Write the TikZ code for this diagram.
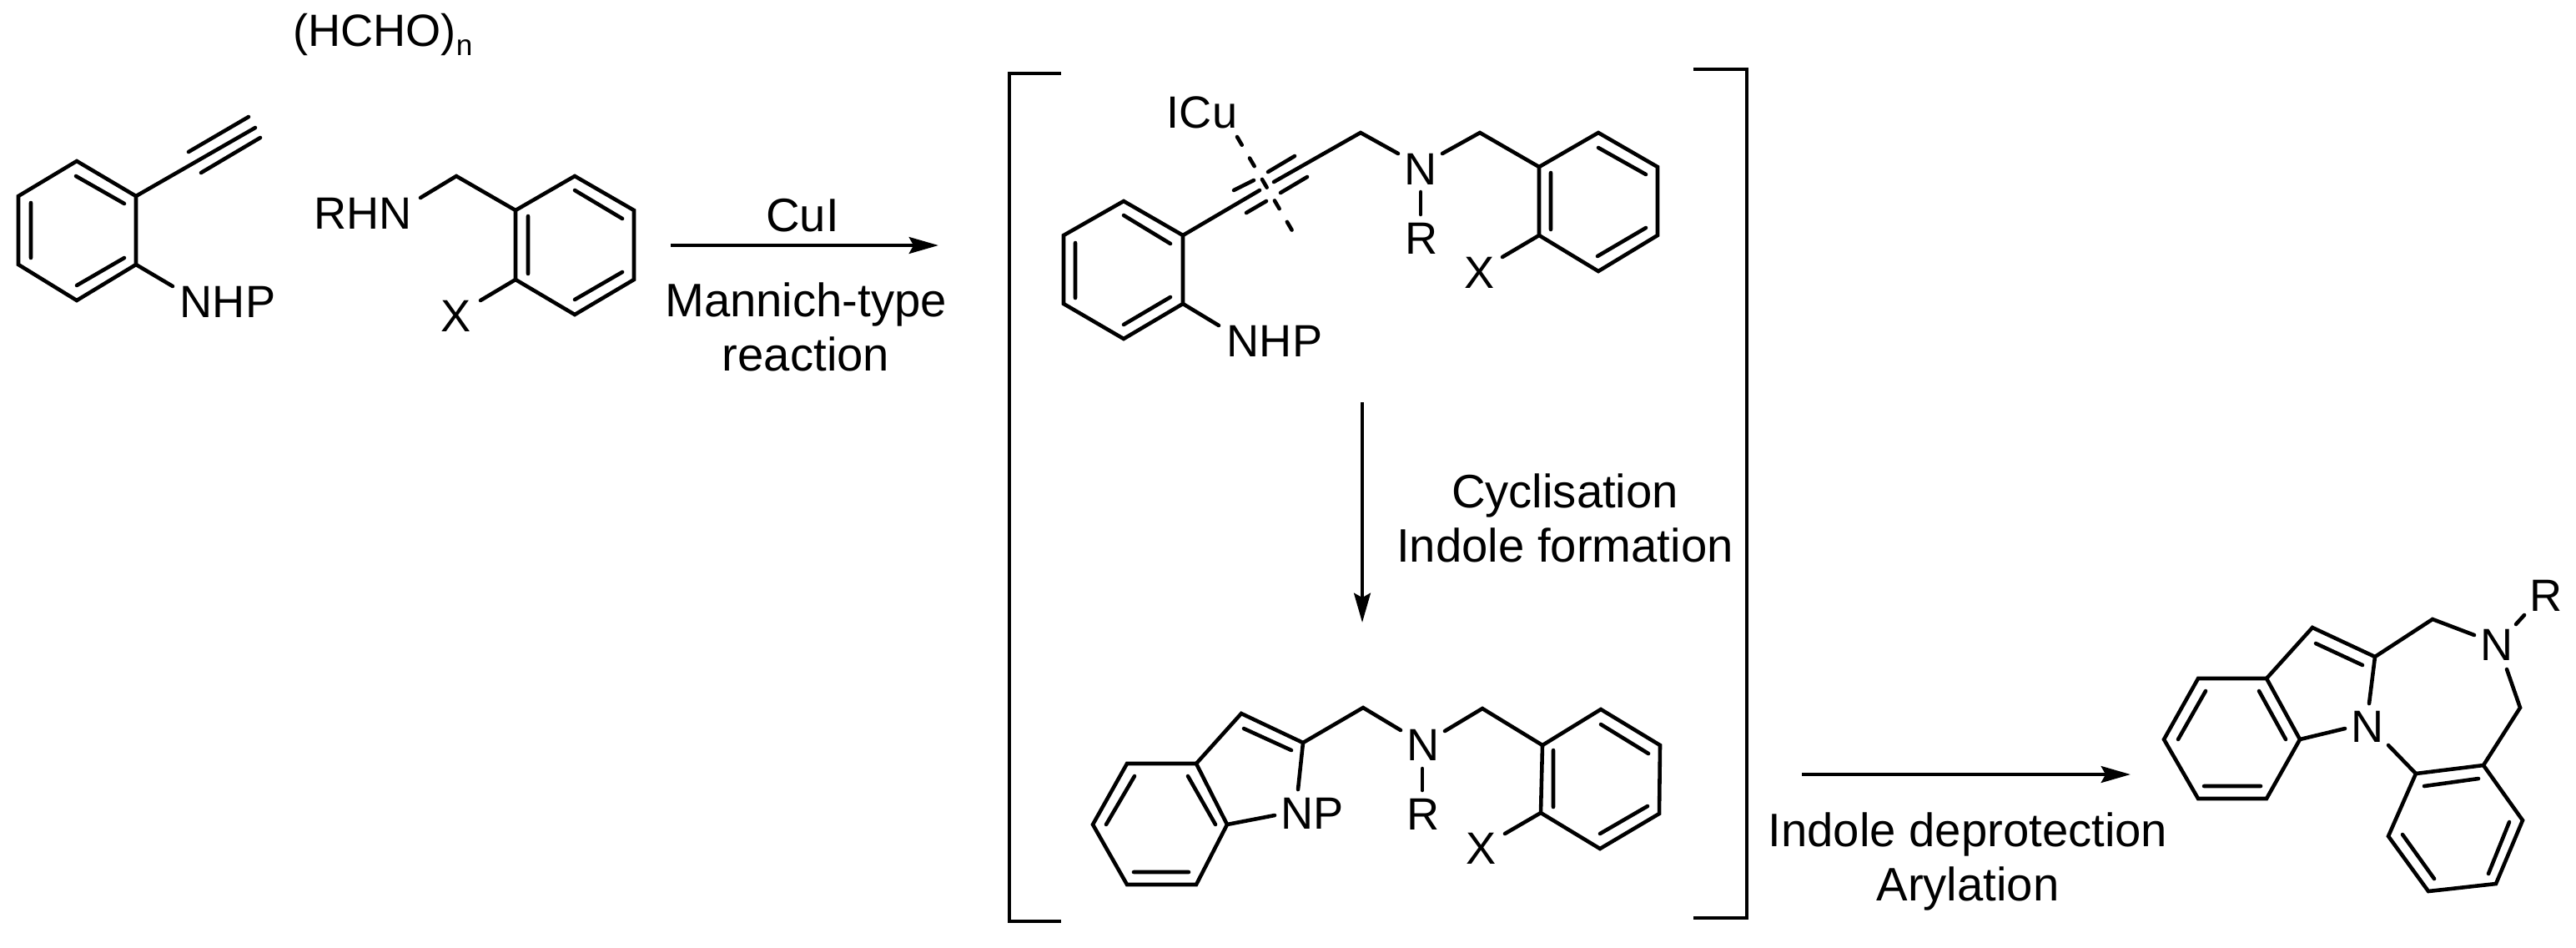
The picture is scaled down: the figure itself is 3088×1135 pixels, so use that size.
\documentclass[tikz,border=0pt]{standalone}
\usepackage{fontspec}
\setmainfont{Liberation Sans}
\usetikzlibrary{arrows.meta}

\tikzset{
  bond/.style={line width=1.3pt,line cap=round,line join=miter},
  dashbond/.style={line width=1.3pt,line cap=round,dash pattern=on 3.2pt off 5.2pt},
  bracket/.style={line width=1.3pt,line join=miter},
  rxnarrow/.style={line width=1.3pt,-{Stealth[length=10pt,width=5.6pt,inset=1.5pt]}},
  atom/.style={inner sep=0pt,font=\fontsize{15.4}{17}\selectfont},
  caption/.style={inner sep=0pt,align=center,font=\fontsize{16}{18.5}\selectfont}
}

\begin{document}
\begin{tikzpicture}[x=0.01cm,y=-0.01cm]
  \useasboundingbox (0,0) rectangle (3088,1135);

  % starting materials
  \draw[bond] (92,193) -- (163,235) -- (163,317) -- (92,360) -- (22,317) -- (22,235) -- cycle;
  \draw[bond] (91,211) -- (149,244) (37,243) -- (37,309) (92,342) -- (149,309);
  \draw[bond] (163,235) -- (306,153) (226,182) -- (298,140) (241,207) -- (312,165);
  \node[atom,anchor=base] (hcho) at (459,55) {(HCHO)\raisebox{-3.4pt}{\fontsize{10}{12}\selectfont n}};
  \node[atom] (nhpa) at (273,362) {NHP};
  \draw[bond] (163,317) -- (207,343);
  \node[atom] (rhn) at (435,256) {RHN};
  \draw[bond] (504,237) -- (547,211) -- (618,252);
  \draw[bond] (618,252) -- (689,211) -- (760,252) -- (760,335) -- (689,377) -- (618,335) -- cycle;
  \draw[bond] (689,228) -- (746,262) (689,359) -- (746,326) (633,259) -- (633,328);
  \node[atom] (xa) at (547,379) {X};
  \draw[bond] (618,335) -- (576,360);

  % brackets
  \draw[bracket] (1272,88) -- (1210,88) -- (1210,1104) -- (1272,1104);
  \draw[bracket] (2030,83) -- (2094,83) -- (2094,1100) -- (2030,1100);

  % copper complex
  \draw[bond] (1347,241) -- (1418,282) -- (1418,364) -- (1347,406) -- (1275,364) -- (1275,282) -- cycle;
  \draw[bond] (1347,258) -- (1403,292) (1289,291) -- (1289,357) (1347,389) -- (1403,356);
  \node[atom] (nhpb) at (1528,409) {NHP};
  \draw[bond] (1418,364) -- (1461,390);
  \draw[bond] (1418,282) -- (1510,228) (1527,218) -- (1631,159) -- (1676,184);
  \draw[bond] (1520,206) -- (1552,187) (1479,228) -- (1503,216) (1535,231) -- (1567,212) (1494,255) -- (1518,241);
  \node[atom] (icu) at (1441,135) {ICu};
  \draw[dashbond] (1483,164) -- (1550,278);
  \node[atom] (nb) at (1703,203) {N};
  \node[atom] (rb) at (1704,286) {R};
  \draw[bond] (1703,230) -- (1703,257);
  \draw[bond] (1729,184) -- (1774,159) -- (1845,200);
  \draw[bond] (1845,200) -- (1916,159) -- (1987,200) -- (1987,282) -- (1916,325) -- (1845,282) -- cycle;
  \draw[bond] (1916,177) -- (1973,209) (1915,307) -- (1973,273) (1859,207) -- (1859,275);
  \node[atom] (xb) at (1774,327) {X};
  \draw[bond] (1845,282) -- (1801,308);

  % indole
  \draw[bond] (1351,915) -- (1434,915) -- (1471,988) -- (1434,1060) -- (1351,1060) -- (1310,988) -- cycle;
  \draw[bond] (1360,930) -- (1326,988) (1424,930) -- (1457,988) (1359,1045) -- (1425,1045);
  \draw[bond] (1434,915) -- (1488,855) -- (1562,890) -- (1556,946) (1491,873) -- (1548,899);
  \node[atom] (npc) at (1573,975) {NP};
  \draw[bond] (1471,988) -- (1528,977);
  \draw[bond] (1562,890) -- (1634,848) -- (1679,875);
  \node[atom] (nc) at (1706,893) {N};
  \node[atom] (rc) at (1706,976) {R};
  \draw[bond] (1705,921) -- (1705,947);
  \draw[bond] (1732,876) -- (1777,849) -- (1849,893);
  \draw[bond] (1849,893) -- (1919,850) -- (1990,893) -- (1989,975) -- (1918,1017) -- (1847,974) -- cycle;
  \draw[bond] (1919,868) -- (1976,903) (1862,899) -- (1862,967) (1918,999) -- (1975,966);
  \node[atom] (xc) at (1776,1017) {X};
  \draw[bond] (1847,974) -- (1804,999);

  % product
  \draw[bond] (2635,813) -- (2717,813) -- (2757,886) -- (2717,957) -- (2635,957) -- (2594,886) -- cycle;
  \draw[bond] (2644,828) -- (2611,886) (2708,828) -- (2740,886) (2642,942) -- (2710,942);
  \draw[bond] (2717,813) -- (2772,752) -- (2847,787) -- (2840,843) (2776,771) -- (2832,797);
  \node[atom] (nd) at (2838,871) {N};
  \draw[bond] (2757,886) -- (2811,873);
  \draw[bond] (2847,787) -- (2916,742) -- (2966,761);
  \node[atom] (ne) at (2993,773) {N};
  \node[atom] (re) at (3052,714) {R};
  \draw[bond] (3016,748) -- (3026,737);
  \draw[bond] (3005,802) -- (3021,848) -- (2977,917);
  \draw[bond] (2977,917) -- (3024,983) -- (2992,1059) -- (2911,1068) -- (2863,1002) -- (2896,927) -- cycle;
  \draw[bond] (2906,942) -- (2971,933) (3008,985) -- (2983,1047) (2880,1000) -- (2918,1053);
  \draw[bond] (2863,893) -- (2896,927);

  % reaction arrows
  \coordinate (cuil) at (804,294);
  \coordinate (cuir) at (1125,294);
  \coordinate (cyct) at (1633,482);
  \coordinate (cycb) at (1633,746);
  \coordinate (depl) at (2160,928);
  \coordinate (depr) at (2554,928);
  \path[rxnarrow]
    (cuil) edge (cuir)
    (cyct) edge (cycb)
    (depl) edge (depr);
  \node[caption] (cui) at (962,258) {CuI};
  \node[caption] (mannich) at (966,392) {Mannich-type\\reaction};
  \node[caption] (cyc) at (1876,621) {Cyclisation\\Indole formation};
  \node[caption] (dep) at (2359,1032) {Indole deprotection\\Arylation};
\end{tikzpicture}
\end{document}
